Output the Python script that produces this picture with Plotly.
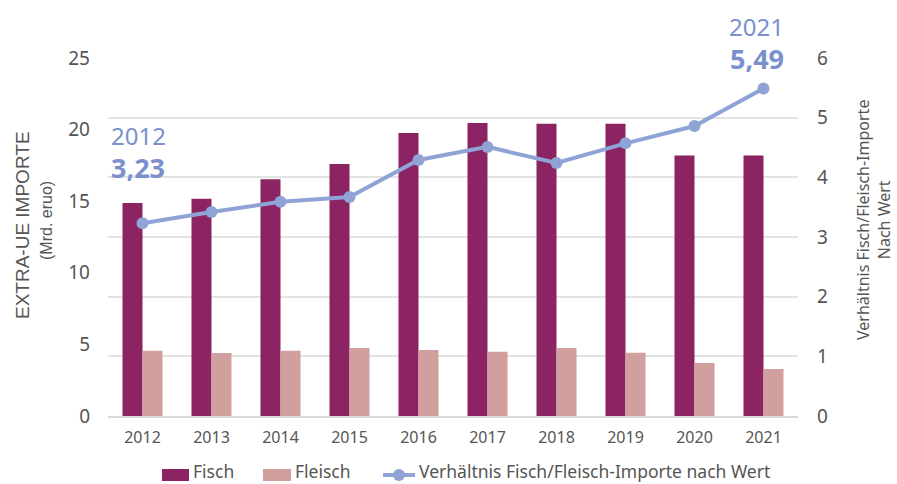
import plotly.graph_objects as go

# Import values (Mrd. Euro) and fish/meat value ratio, 2012-2021
years = ["2012", "2013", "2014", "2015", "2016", "2017", "2018", "2019", "2020", "2021"]
fisch = [14.87, 15.17, 16.53, 17.6, 19.76, 20.46, 20.4, 20.4, 18.2, 18.2]
fleisch = [4.56, 4.40, 4.56, 4.75, 4.61, 4.49, 4.75, 4.42, 3.70, 3.28]
verhaeltnis = [3.23, 3.42, 3.59, 3.67, 4.29, 4.51, 4.24, 4.57, 4.86, 5.49]
series_names = ["Fisch", "Fleisch", "Verhältnis Fisch/Fleisch-Importe nach Wert"]

FISCH_COL = "#8c2362"
FLEISCH_COL = "#d09f9e"
LINE_COL = "#8fa3d6"
LABEL_COL = "#7b90cc"
TEXT_COL = "#555555"
FONT = "Noto Sans"

W, H = 897, 484
M_L, M_R, M_T, M_B = 108, 99, 58, 68
PW, PH = W - M_L - M_R, H - M_T - M_B


def px_x(px):
    """Page pixel column -> paper x."""
    return (px - M_L) / PW


def px_y(py):
    """Page pixel row -> paper y."""
    return (H - M_B - py) / PH


fig = go.Figure()
fig.add_trace(go.Bar(x=years, y=fisch, name=series_names[0], marker_color=FISCH_COL,
                     marker_line_width=0, yaxis="y"))
fig.add_trace(go.Bar(x=years, y=fleisch, name=series_names[1], marker_color=FLEISCH_COL,
                     marker_line_width=0, yaxis="y"))
fig.add_trace(go.Scatter(x=years, y=verhaeltnis, name=series_names[2],
                         mode="lines+markers", yaxis="y2",
                         line=dict(color=LINE_COL, width=4),
                         marker=dict(color=LINE_COL, size=12)))


def fmt(v):
    return f"{v:.2f}".replace(".", ",")


# First and last ratio values called out above the line (x given as category index)
first, last = 0, len(years) - 1
fig.add_annotation(x=first, y=verhaeltnis[first], yref="y2", xref="x",
                   text=years[first], showarrow=False, xshift=-34, yshift=88,
                   xanchor="left", font=dict(family=FONT, size=24, color=LABEL_COL))
fig.add_annotation(x=first, y=verhaeltnis[first], yref="y2", xref="x",
                   text=f"<b>{fmt(verhaeltnis[first])}</b>", showarrow=False,
                   xshift=-34, yshift=56, xanchor="left",
                   font=dict(family=FONT, size=27, color=LABEL_COL))
fig.add_annotation(x=last, y=verhaeltnis[last], yref="y2", xref="x",
                   text=years[last], showarrow=False, xshift=22, yshift=62,
                   xanchor="right", font=dict(family=FONT, size=24, color=LABEL_COL))
fig.add_annotation(x=last, y=verhaeltnis[last], yref="y2", xref="x",
                   text=f"<b>{fmt(verhaeltnis[last])}</b>", showarrow=False,
                   xshift=22, yshift=30, xanchor="right",
                   font=dict(family=FONT, size=27, color=LABEL_COL))

# Axis titles
fig.add_annotation(x=px_x(22), y=px_y(225), xref="paper", yref="paper", textangle=-90,
                   xanchor="center", yanchor="middle",
                   text="EXTRA-UE IMPORTE", showarrow=False,
                   font=dict(family="Liberation Sans", size=19, color=TEXT_COL))
fig.add_annotation(x=px_x(46), y=px_y(221), xref="paper", yref="paper", textangle=-90,
                   xanchor="center", yanchor="middle",
                   text="(Mrd. eruo)", showarrow=False,
                   font=dict(family="Liberation Sans", size=16, color=TEXT_COL))
fig.add_annotation(x=px_x(873), y=px_y(220), xref="paper", yref="paper", textangle=-90,
                   xanchor="center", yanchor="middle",
                   text="Verhältnis Fisch/Fleisch-Importe<br>Nach Wert", showarrow=False,
                   font=dict(family=FONT, size=16, color=TEXT_COL))

# Legend row drawn below the plot
LEG_Y = 471
shapes = [
    dict(type="rect", xref="paper", yref="paper", x0=px_x(162), x1=px_x(189),
         y0=px_y(481), y1=px_y(469), fillcolor=FISCH_COL, line_width=0),
    dict(type="rect", xref="paper", yref="paper", x0=px_x(263), x1=px_x(291),
         y0=px_y(481), y1=px_y(469), fillcolor=FLEISCH_COL, line_width=0),
    dict(type="line", xref="paper", yref="paper", x0=px_x(383), x1=px_x(415),
         y0=px_y(475), y1=px_y(475), line=dict(color=LINE_COL, width=4)),
    dict(type="circle", xref="paper", yref="paper", x0=px_x(393), x1=px_x(405),
         y0=px_y(481), y1=px_y(469), fillcolor=LINE_COL, line_width=0),
]
for name, left in zip(series_names, [192, 294, 418]):
    fig.add_annotation(x=px_x(left), y=px_y(LEG_Y), xref="paper", yref="paper",
                       xanchor="left", yanchor="middle", text=name, showarrow=False,
                       borderpad=0,
                       font=dict(family=FONT, size=17.5, color=TEXT_COL))

fig.update_layout(
    width=W, height=H,
    margin=dict(l=M_L, r=M_R, t=M_T, b=M_B, autoexpand=False),
    paper_bgcolor="white", plot_bgcolor="white",
    barmode="group", bargap=0.42, bargroupgap=0,
    showlegend=False, shapes=shapes,
    font=dict(family=FONT, color=TEXT_COL),
    xaxis=dict(type="category", range=[-0.5, len(years) - 0.5], autorange=False,
               tickfont=dict(size=16, color=TEXT_COL), showline=True,
               linecolor="#d9d9d9", linewidth=2, ticks="", showgrid=False,
               ticklabelstandoff=6),
    yaxis=dict(range=[0, 25], tickvals=[0, 5, 10, 15, 20, 25], showgrid=False,
               zeroline=False, tickfont=dict(size=19, color=TEXT_COL),
               ticks="", ticklabelstandoff=17),
    yaxis2=dict(range=[0, 6], tickvals=[0, 1, 2, 3, 4, 5, 6], overlaying="y", side="right",
                showgrid=True, gridcolor="#e3e3e3", gridwidth=1.5, zeroline=False,
                tickfont=dict(size=19, color=TEXT_COL), ticks="", ticklabelstandoff=18),
)

fig.write_html("out.html")
